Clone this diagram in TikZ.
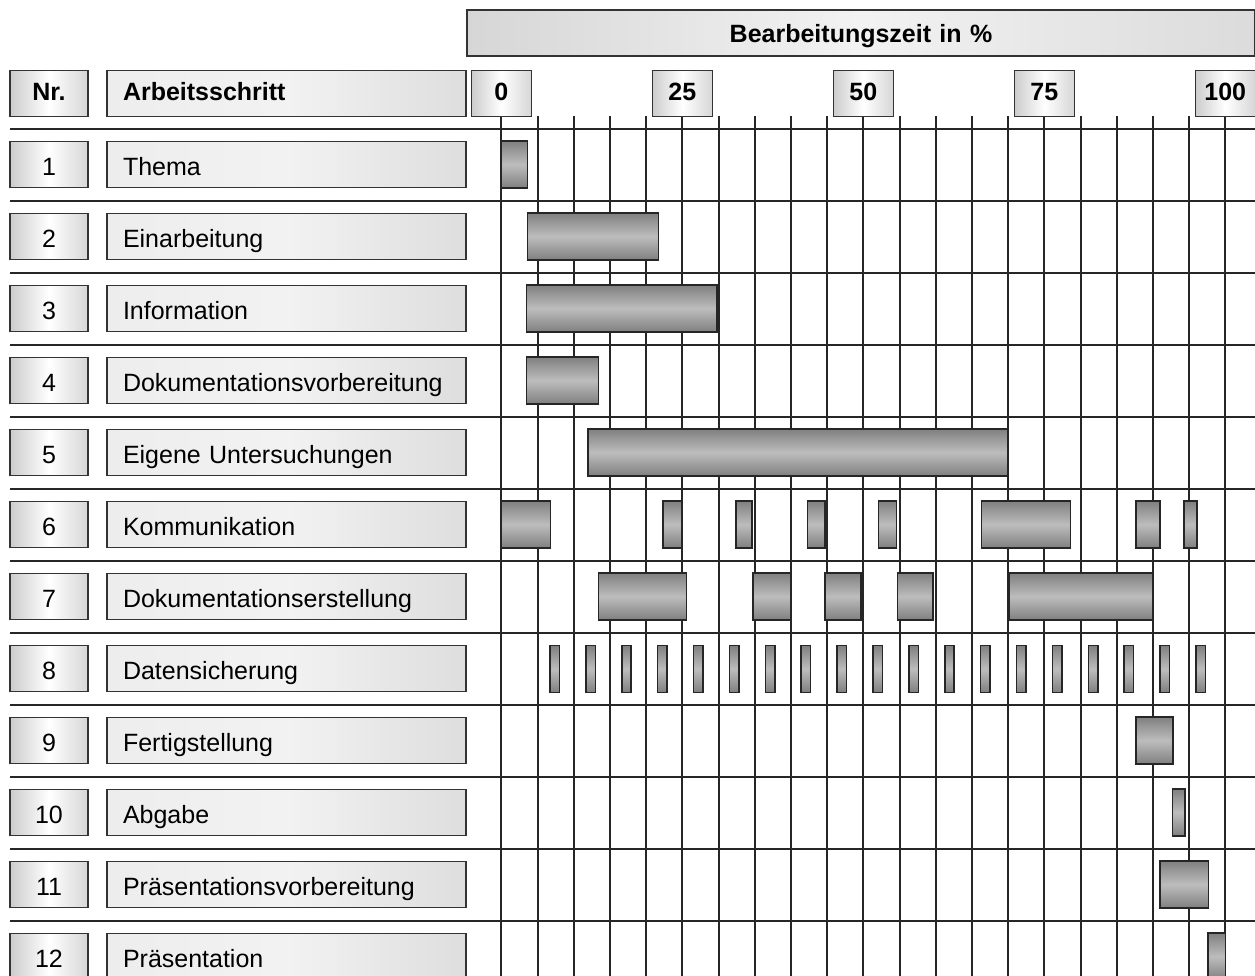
\documentclass[tikz,border=0pt]{standalone}
\usepackage{fontspec}
\setmainfont{Liberation Sans}
\newcommand\chartfont{\fontsize{12.5}{15}\selectfont}
\tikzset{gridline/.style={black!85, line width=1pt}}
\tikzset{bar/.style={draw=black!85, line width=0.8pt, top color=black!50, bottom color=black!50, middle color=black!26}}
\tikzset{numbox/.style={draw=black!80, line width=0.8pt, left color=black!20, right color=black!16, middle color=white, minimum width=39pt, minimum height=23pt, inner sep=0pt, text height=10.5pt, text depth=0pt, font=\chartfont}}
\tikzset{namebox/.style={draw=black!80, line width=0.8pt, left color=black!7, right color=black!13, middle color=black!5, minimum height=23pt, text width=163.5pt, inner xsep=8pt, inner ysep=0pt, align=left, text height=10.5pt, text depth=0pt, font=\chartfont}}
\tikzset{headrow/.style={text height=7pt}}

\begin{document}
\begin{tikzpicture}[x=0.5pt, y=-0.5pt]
    \clip (0,0) rectangle (1255,976);
    \useasboundingbox (0,0) rectangle (1255,976);
    \foreach \k in {0,...,11} {
        \draw[gridline] (10,{128.5+72*\k}) -- (1255,{128.5+72*\k});
    }
    \begin{scope}[shift={(501.3,0)}, x=3.62pt]
        \foreach \p in {0,5,...,100} {
            \draw[gridline] (\p,116) -- (\p,976);
        }
        \foreach \p in {0,25,...,100} {
            \node[numbox, headrow, minimum width=30pt] (tick\p) at (\p,93.5) {\bfseries\p};
        }
        \foreach \r/\a/\b in {1/0/3.6, 2/3.6/21.7, 3/3.5/29.8, 4/3.5/13.4, 5/12.0/70.0,
                6/0/6.8, 6/22.3/24.9, 6/32.4/34.6, 6/42.3/44.7, 6/52.1/54.6, 6/66.3/78.6, 6/87.7/91.0, 6/94.3/96.1,
                7/13.4/25.6, 7/34.8/40.0, 7/44.7/49.7, 7/54.7/59.6, 7/70.1/90.0,
                9/87.7/92.8, 10/92.7/94.4, 11/91.0/97.7, 12/97.6/100} {
            \draw[bar] (\a,{141+72*(\r-1)}) rectangle (\b,{188+72*(\r-1)});
        }
        \foreach \i in {0,...,18} {
            \draw[bar] ({7.38+4.957*\i-0.65},645.5) rectangle ({7.38+4.957*\i+0.65},692.5);
        }
    \end{scope}
    \node[namebox, text width=378pt, align=center, text height=9.5pt, left color=black!16, right color=black!14, middle color=black!5] (zeit) at (861,33) {\bfseries Bearbeitungszeit in \%};
    \node[numbox, headrow] (nr) at (49,93.5) {\bfseries Nr.};
    \node[namebox, headrow] (schritt) at (286.5,93.5) {\bfseries Arbeitsschritt};
    \foreach \r/\name in {1/Thema, 2/Einarbeitung, 3/Information, 4/Dokumentationsvorbereitung,
            5/Eigene Untersuchungen, 6/Kommunikation, 7/Dokumentationserstellung, 8/Datensicherung,
            9/Fertigstellung, 10/Abgabe, 11/Präsentationsvorbereitung, 12/Präsentation} {
        \node[numbox] (nr\r) at (49,{164.5+72*(\r-1)}) {\r};
        \node[namebox] (schritt\r) at (286.5,{164.5+72*(\r-1)}) {\name};
    }
\end{tikzpicture}
\end{document}
